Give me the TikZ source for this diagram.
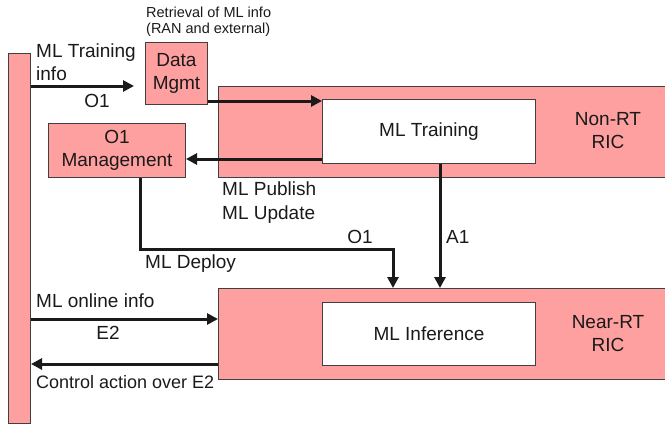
\documentclass[tikz,border=0pt]{standalone}
\usepackage{fontspec}
\setmainfont{Liberation Sans}
\usetikzlibrary{arrows.meta}
\definecolor{ricpink}{RGB}{255,160,160}
\definecolor{edgegray}{RGB}{64,64,64}
\definecolor{ink}{RGB}{26,26,26}
\newcommand{\fmain}{\fontsize{19}{23}\selectfont}
\newcommand{\fsmall}{\fontsize{14.5}{15.5}\selectfont}
\begin{document}
\begin{tikzpicture}[x=1pt,y=-1pt,
  box/.style={draw=edgegray, fill=ricpink, line width=1pt, inner sep=0pt, anchor=north west, text=ink, font=\fmain, align=center},
  wbox/.style={box, fill=white},
  lbl/.style={inner sep=0pt, text=ink, font=\fmain},
  arr/.style={line width=3pt, draw=ink, -{Triangle[length=11pt,width=11pt]}}]
\useasboundingbox (0,0) rectangle (665,426);
\clip (0,0) rectangle (665,426);
% boxes
\node[box, minimum width=22pt, minimum height=370pt] (bar) at (8,53) {};
\node[box, minimum width=62pt, minimum height=62pt] (dm) at (145,42) {Data\\Mgmt};
\node[box, minimum width=452pt, minimum height=91pt] (nrt) at (218,86) {};
\node[wbox, minimum width=213pt, minimum height=64pt] (mlt) at (322,99) {ML Training};
\node[box, minimum width=137pt, minimum height=54pt] (o1m) at (48,123) {O1\\Management};
\node[box, minimum width=452pt, minimum height=91pt] (near) at (218,288) {};
\node[wbox, minimum width=213pt, minimum height=63pt] (mli) at (322,302) {ML Inference};
\node[lbl, align=center] (nrtl) at (608,131) {Non-RT\\RIC};
\node[lbl, align=center] (nearl) at (608,334) {Near-RT\\RIC};
% labels
\node[lbl, anchor=north west, align=left] (tinfo) at (36,43.3) {ML Training\\info};
\node[lbl, anchor=north] (o1a) at (97,94.3) {O1};
\node[lbl, anchor=north west, align=left, font=\fsmall] (retr) at (146,7) {Retrieval of ML info\\(RAN and external)};
\node[lbl, anchor=north west, align=left, font=\fontsize{19}{24}\selectfont] (pub) at (222,181.3) {ML Publish\\ML Update};
\node[lbl, anchor=north west] (depl) at (145,254.3) {ML Deploy};
\node[lbl, anchor=north] (o1b) at (360,230.3) {O1};
\node[lbl, anchor=north west] (a1) at (446,230.3) {A1};
\node[lbl, anchor=north west] (onl) at (36,293.3) {ML online info};
\node[lbl, anchor=north] (e2l) at (108,326.3) {E2};
\node[lbl, anchor=north west, font=\fontsize{18}{22}\selectfont] (ctl) at (36,375) {Control action over E2};
% connectors
\coordinate (o1end) at (134,86);
\draw[arr] (bar.east |- o1end) -- (o1end);
\coordinate (dmo) at ([yshift=4pt]dm.south east);
\draw[arr] (dmo) -- (dmo -| mlt.west);
\coordinate (mlo) at ([yshift=5pt]mlt.south west);
\draw[arr] (mlo) -- (mlo -| o1m.east);
\coordinate (o1d) at ([xshift=92pt]o1m.south west);
\coordinate (dep) at (393,249);
\draw[arr] (o1d) |- (dep) -- (dep |- near.north);
\coordinate (a1s) at ([xshift=118pt]mlt.south west);
\draw[arr] (a1s) -- (a1s |- near.north);
\coordinate (e2) at (0,319);
\draw[arr] (bar.east |- e2) -- (near.west |- e2);
\coordinate (ct) at (0,364);
\draw[arr] (near.west |- ct) -- (bar.east |- ct);
\end{tikzpicture}
\end{document}
